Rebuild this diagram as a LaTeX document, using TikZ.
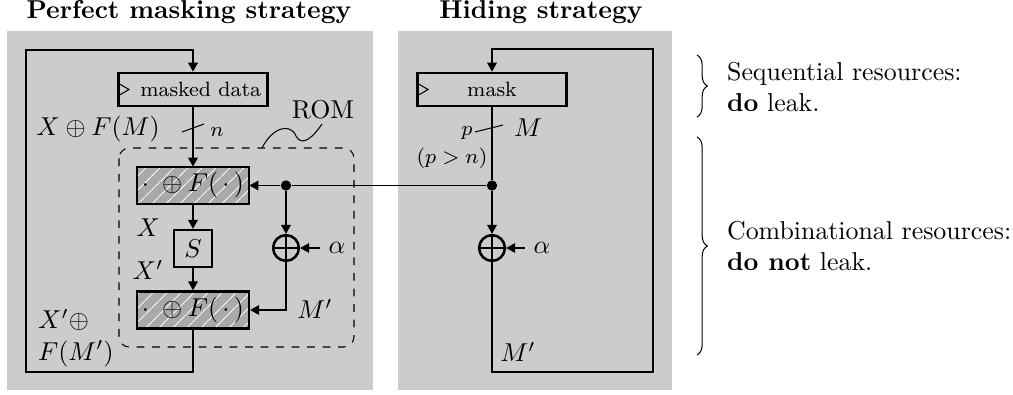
\documentclass[tikz,border=0pt]{standalone}
\usepackage{amsmath}
\usepackage{amssymb}
\usepackage{xcolor}
\usepackage{tikz}
\usetikzlibrary{
	arrows.meta,
	calc,
	patterns.meta,
	decorations.pathreplacing
}

\definecolor{panelgray}{HTML}{CCCCCC}
\definecolor{boxgray}{HTML}{A9A9A9}

\tikzset{
	reg/.style={draw, line width=1pt, minimum width=2.03cm, minimum height=0.45cm, inner sep=0pt, font=\footnotesize},
	func/.style={draw, line width=1pt, preaction={fill=boxgray}, pattern={Lines[angle=45, distance=4pt, line width=0.4pt]}, pattern color=white, minimum width=1.52cm, minimum height=0.5cm, inner sep=0pt},
	sbox/.style={draw, line width=1pt, minimum width=0.52cm, minimum height=0.5cm, inner sep=0pt},
	xorgate/.style={draw, circle, line width=1pt, minimum size=0.35cm, inner sep=0pt},
	junct/.style={circle, fill, inner sep=0pt, minimum size=4pt}
}

\begin{document}
\begin{tikzpicture}[x=0.0136cm, y=-0.0136cm, >={Triangle[length=3.5pt,width=3.8pt]}]
		\useasboundingbox (0,0) rectangle (1013,394);
		\fill[panelgray] (7,31) rectangle (373,390);
		\fill[panelgray] (398,31) rectangle (672,390);
		\node[font=\bfseries] (t1) at (189,12) {Perfect masking strategy};
		\node[font=\bfseries] (t2) at (541,12) {Hiding strategy};
		% perfect masking
		\node[reg] (mdata) at (193,89.5) {\hspace{6pt}masked data};
		\node[func] (f1) at (193,185.5) {$\cdot\;\oplus F(\,\cdot\,)$};
		\node[sbox] (s) at (193,248.5) {$S$};
		\node[func] (f2) at (193,310) {$\cdot\;\oplus F(\,\cdot\,)$};
		\node[xorgate] (xl) at (286,248) {};
		\node[junct] (jl) at (286,185.5) {};
		\node (al) at (337,248) {$\alpha$};
		\coordinate (lt) at (26,50);
		\coordinate (lb) at (26,372);
		\draw ($(mdata.west)+(0,-7)$) -- ($(mdata.west)+(12,0)$) -- ($(mdata.west)+(0,7)$);
		\draw[->] (f2.south) |- (lb) -- (lt) -| (mdata.north);
		\draw[->] (mdata.south) -- (f1.north);
		\draw[->] (f1.south) -- (s.north);
		\draw[->] (s.south) -- (f2.north);
		\draw[->] (jl) -- (f1.east);
		\draw[->] (jl) -- (xl.north);
		\draw[->] (xl.south) |- (f2.east);
		\draw[->] (al) -- (xl.east);
		\draw (xl.north) -- (xl.south); \draw (xl.west) -- (xl.east);
		\draw (182,132) -- (204,124);
		\node (lxf) at (98,129) {$X\oplus F(M)$};
		\node[font=\footnotesize] (ln) at (217,132) {$n$};
		\node (lx) at (148,228) {$X$};
		\node (lx2) at (148,270) {$X'$};
		\node (lm2) at (315,309) {$M'$};
		\node[align=left, anchor=west] (lxf2) at (29,338) {$X'\oplus$\\$F(M')$};
		\draw[dashed, rounded corners=4pt] (119,148) rectangle (354,347);
		\node (rom) at (323,110) {ROM};
		\draw (262,148) .. controls (272,128) and (290,122) .. (296,136) .. controls (302,148) and (314,136) .. (322,124);
		% hiding
		\node[reg] (mask) at (492,89.5) {mask};
		\node[junct] (jr) at (492,185.5) {};
		\node[xorgate] (xr) at (492,248) {};
		\node (ar) at (542,248) {$\alpha$};
		\coordinate (rt) at (653,49);
		\coordinate (rb) at (653,372);
		\draw ($(mask.west)+(0,-7)$) -- ($(mask.west)+(12,0)$) -- ($(mask.west)+(0,7)$);
		\draw[->] (xr.south) |- (rb) -- (rt) -| (mask.north);
		\draw (mask.south) -- (jr);
		\draw[->] (jr) -- (xr.north);
		\draw (jr) -- (jl);
		\draw[->] (ar) -- (xr.east);
		\draw (xr.north) -- (xr.south); \draw (xr.west) -- (xr.east);
		\draw (475,132) -- (503,125);
		\node[font=\footnotesize] (lp) at (467,133) {$p$};
		\node (lm) at (528,128) {$M$};
		\node[font=\footnotesize] (lpn) at (452,158) {$(p>n)$};
		\node (lm3) at (518,352) {$M'$};
		% resources
		\draw[decorate, decoration={brace, amplitude=4pt}] (697,55) -- (697,117);
		\draw[decorate, decoration={brace, amplitude=4pt}] (697,137) -- (697,355);
		\node[align=left, anchor=west] (seq) at (718,87) {Sequential resources:\\\textbf{do} leak.};
		\node[align=left, anchor=west] (comb) at (718,246) {Combinational resources:\\\textbf{do not} leak.};
	\end{tikzpicture}
\end{document}
